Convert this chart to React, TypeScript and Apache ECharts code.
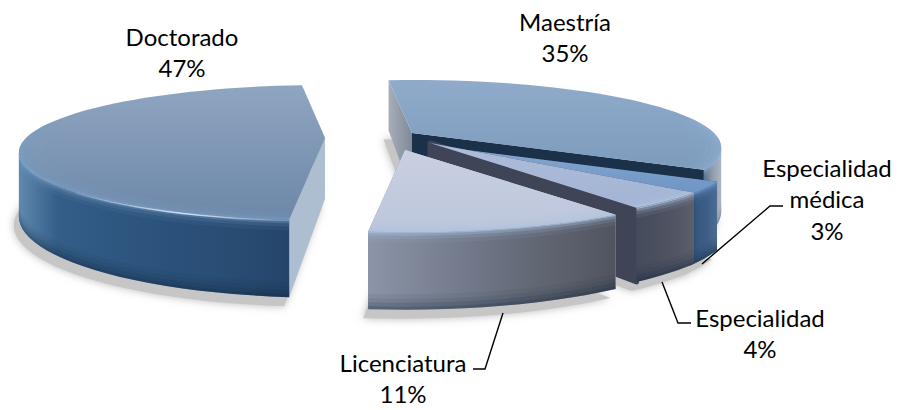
import React, { useEffect, useRef } from "react";
import * as echarts from "echarts";

const categories = ["Doctorado", "Maestría", "Especialidad médica", "Especialidad", "Licenciatura"];
const shares = [47, 35, 3, 4, 11];
const labelLines = [["Doctorado", "47%"], ["Maestría", "35%"], ["Especialidad", "médica", "3%"], ["Especialidad", "4%"], ["Licenciatura", "11%"]];
const labelCentres = [[182, 36], [565, 21], [827, 167], [760, 317], [403, 362]];
const leaders = [
  [[702, 264], [770, 206], [783, 206]],
  [[662, 282], [678, 323], [691, 323]],
  [[503, 313], [485, 369], [473, 369]],
];

const RX = 299, RY = 64.4, K = 0.215, H = 61, START = 354.6;
const apexes = [[325, 138], [412, 133], [428, 145], [430, 143], [405, 150]];
const xScales = [1, 1.01, 1, 1.01, 1.03];
const looks = [
  { top: ["#8fa6c1", "#6d87a8"], wall: ["#5f89b0", "#345e88", "#2f5882", "#2d557e", "#2b517a", "#2a4e76", "#284a70", "#25446a"], rim: "#7aa0c6", face: ["#adbed0", "#adbed0"], back: "#adbed0" },
  { top: ["#90abca", "#7d9bbd"], wall: ["#5c6c83", "#8f9cae", "#aeb7c3"], rim: "#8fb0d2", face: ["#1b3049", "#1b3049"], back: "#a4abb6" },
  { top: ["#86a8d2", "#6f94c2"], wall: ["#27486f", "#385a82", "#3e6088", "#4d6c90"], rim: "#6f9bcb", face: ["#1e3d60", "#1e3d60"], back: "#1e3d60" },
  { top: ["#aebcd9", "#a3b4d4"], wall: ["#454b5c", "#4a4f5f", "#515563", "#5c5f6c"], rim: "#b4c8e4", face: ["#3f4456", "#3f4456"], back: "#3f4456" },
  { top: ["#c9d0e1", "#bcc6dc"], wall: ["#8c94a7", "#767d8f", "#636875", "#50545f"], rim: "#a8c0de", face: ["#8c94a7", "#8c94a7"], back: "#c5cde0" },
];

const rad = (d: number) => (d * Math.PI) / 180;
function P(i: number, deg: number, r: number, z: number) {
  const x = r * Math.sin(rad(deg)), y = r * Math.cos(rad(deg)), w = 1 + K * y;
  const [ax, ay] = apexes[i];
  return [ax + (RX * xScales[i] * x) / w, ay - (RY * y) / w + ((1 - z) * H) / w];
}
function span(i: number) {
  const total = shares.reduce((a, b) => a + b, 0);
  let s = START;
  if (i === 0) return [s - (shares[0] / total) * 360, s];
  for (let j = 1; j < i; j++) s += (shares[j] / total) * 360;
  return [s, s + (shares[i] / total) * 360];
}
function arc(i: number, a: number, b: number, r: number, z: number) {
  const n = Math.max(6, Math.ceil(Math.abs(b - a) / 3));
  const out: number[][] = [];
  for (let t = 0; t <= n; t++) out.push(P(i, a + ((b - a) * t) / n, r, z));
  return out;
}
const lin = (x2: number, y2: number, colors: string[]) => ({
  type: "linear", x: 0, y: 0, x2, y2,
  colorStops: colors.map((color, k) => ({ offset: k / (colors.length - 1), color })),
});
const band = (pts: number[][], fill: any, opacity = 1) => ({
  type: "polygon", shape: { points: pts }, style: { fill, opacity }, silent: true,
});

function renderShadow(_p: any, api: any) {
  const i = api.value(1);
  const [a, b] = span(i);
  const pts = [P(i, a, 0, 0), ...arc(i, a, b, 1, 0)].map(([x, y]) => [x - 5, y + 9]);
  return {
    type: "polygon", shape: { points: pts },
    style: { fill: "#c6c6c6", shadowBlur: 9, shadowColor: "#b8b8b8" },
  };
}

function renderSlice(_p: any, api: any) {
  const i = api.value(1);
  const [a, b] = span(i);
  const look = looks[i];
  const kids: any[] = [];
  const ac = P(i, a, 0, 1), bc = P(i, b, 0, 1), az = P(i, a, 0, 0), bz = P(i, b, 0, 0);
  // radial faces
  kids.push(band([ac, P(i, a, 1, 1), P(i, a, 1, 0), az], i === 1 ? lin(1, 0, ["#a7aeb9", "#7f8998"]) : look.back));
  const endFace: any = band([bc, P(i, b, 1, 1), P(i, b, 1, 0), bz], lin(1, 0, look.face));
  if (i === 3) {
    endFace.style.stroke = look.face[0];
    endFace.style.lineWidth = 5;
    endFace.style.lineJoin = "round";
  }
  kids.push(endFace);
  // outer wall: only the stretch that faces the viewer, up to the silhouette
  const silhouette = (Math.acos(-K) * 180) / Math.PI;
  const wa = i === 1 ? 360 + silhouette : a, wb = i === 0 ? 360 - silhouette : b;
  const top = arc(i, wa, wb, 1, 1);
  const bot = arc(i, wa, wb, 1, 0);
  kids.push(band([...top, ...bot.slice().reverse()], lin(1, 0, look.wall)));
  // dark foot of the wall, rounded towards the ground
  const foot = [[0.14, 0.06], [0.09, 0.14], [0.04, 0.26], [0, 0.4]];
  foot.forEach(([z, o], k) => {
    const z0 = k === 0 ? 0.2 : foot[k - 1][0];
    const up = arc(i, wa, wb, 1, z0);
    const lo = arc(i, wa, wb, 1, z);
    kids.push(band([...up, ...lo.reverse()], i === 1 ? "#5b6675" : "#10233a", o));
  });
  // bevel at the head of the wall
  const heads = [[1, 0.98, 0.8], [0.98, 0.95, 0.45], [0.95, 0.91, 0.22], [0.91, 0.86, 0.08]];
  heads.forEach(([z0, z1, o]) => {
    kids.push(band([...arc(i, wa, wb, 1, z0), ...arc(i, wa, wb, 1, z1).reverse()], look.rim, o));
  });
  // top face
  kids.push(band([ac, ...arc(i, a, b, 1, 1)], lin(0, 1, look.top)));
  // bevel on the top face's rim
  const ra = i === 1 ? wa - 25 : wa, rb = i === 0 ? wb + 25 : wb;
  const rims = [[1, 0.985, 0.5], [0.985, 0.97, 0.32], [0.97, 0.95, 0.18], [0.95, 0.92, 0.08]];
  rims.forEach(([r0, r1, o]) => {
    kids.push(band([...arc(i, ra, rb, r0, 1), ...arc(i, ra, rb, r1, 1).reverse()], look.rim, o));
  });
  if (i === 0) {
    kids.push({
      type: "polyline", silent: true,
      shape: { points: arc(i, a, 225, 1, 0.985) },
      style: { fill: "none", lineWidth: 1.5, stroke: lin(1, 0, ["rgba(255,255,255,0.1)", "rgba(220,235,250,0.9)", "rgba(255,255,255,0.05)"]) },
    });
  }
  return { type: "group", children: kids };
}

export default function App() {
  const ref = useRef<HTMLDivElement>(null);
  useEffect(() => {
    const chart = echarts.init(ref.current!, undefined, { renderer: "svg" });
    const data = shares.map((v, i) => ({ name: categories[i], value: [v, i] }));
    const graphic: any[] = [];
    labelLines.forEach((lines, i) => {
      lines.forEach((t, j) => {
        graphic.push({
          type: "text", x: labelCentres[i][0], y: labelCentres[i][1] + j * 31.5, z: 20,
          style: { text: t, fill: "#000", font: "24px Lato", align: "center", verticalAlign: "middle" },
        });
      });
    });
    leaders.forEach((pts) => {
      graphic.push({ type: "polyline", z: 20, shape: { points: pts }, style: { fill: "none", stroke: "#000", lineWidth: 1.4 } });
    });
    chart.setOption({
      animation: false,
      backgroundColor: "#fff",
      graphic,
      series: [
        { type: "custom", coordinateSystem: "none", z: 1, data, renderItem: renderShadow, silent: true },
        { type: "custom", coordinateSystem: "none", z: 2, data, renderItem: renderSlice, silent: true },
      ],
    });
    return () => chart.dispose();
  }, []);
  return <div ref={ref} style={{ position: "fixed", left: 0, top: 0, width: 900, height: 410 }} />;
}
